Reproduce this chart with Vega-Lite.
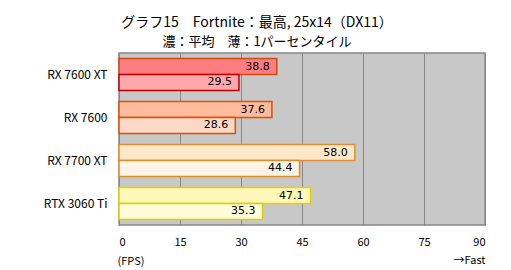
{
  "$schema": "https://vega.github.io/schema/vega-lite/v6.json",
  "width": 366,
  "height": 172,
  "autosize": {"type": "none"},
  "padding": {"left": 119, "top": 53, "right": 26, "bottom": 45},
  "background": "#ffffff",
  "title": {
    "text": "グラフ15　Fortnite：最高, 25x14（DX11）",
    "subtitle": "濃：平均　薄：1パーセンタイル",
    "anchor": "middle",
    "frame": "group",
    "dx": -45,
    "font": "Noto Sans CJK JP",
    "fontSize": 14,
    "fontWeight": "normal",
    "color": "#000000",
    "subtitleFont": "Noto Sans CJK JP",
    "subtitleFontSize": 13,
    "subtitleColor": "#000000",
    "subtitlePadding": 6,
    "offset": 4
  },
  "data": {
    "values": [
      {"gpu": "RX 7600 XT", "metric": "avg", "key": "RX 7600 XT avg", "value": 38.8},
      {"gpu": "RX 7600 XT", "metric": "p1", "key": "RX 7600 XT p1", "value": 29.5},
      {"gpu": "RX 7600", "metric": "avg", "key": "RX 7600 avg", "value": 37.6},
      {"gpu": "RX 7600", "metric": "p1", "key": "RX 7600 p1", "value": 28.6},
      {"gpu": "RX 7700 XT", "metric": "avg", "key": "RX 7700 XT avg", "value": 58.0},
      {"gpu": "RX 7700 XT", "metric": "p1", "key": "RX 7700 XT p1", "value": 44.4},
      {"gpu": "RTX 3060 Ti", "metric": "avg", "key": "RTX 3060 Ti avg", "value": 47.1},
      {"gpu": "RTX 3060 Ti", "metric": "p1", "key": "RTX 3060 Ti p1", "value": 35.3}
    ]
  },
  "encoding": {
    "y": {
      "field": "gpu",
      "type": "nominal",
      "sort": ["RX 7600 XT", "RX 7600", "RX 7700 XT", "RTX 3060 Ti"],
      "scale": {"paddingInner": 0.256, "paddingOuter": 0.128},
      "axis": {
        "title": null,
        "domain": false,
        "ticks": false,
        "labelPadding": 12,
        "labelFont": "Noto Sans CJK JP",
        "labelFontSize": 12,
        "labelColor": "#000000"
      }
    },
    "yOffset": {
      "field": "metric",
      "type": "nominal",
      "sort": ["avg", "p1"],
      "scale": {"paddingInner": 0, "paddingOuter": 0}
    },
    "x": {
      "field": "value",
      "type": "quantitative",
      "scale": {"domain": [0, 90], "nice": false},
      "axis": {
        "values": [0, 15, 30, 45, 60, 75, 90],
        "labelExpr": "datum.value == 90 ? ['90', '→Fast'] : datum.label",
        "labelLineHeight": 18,
        "grid": true,
        "gridColor": "#888888",
        "gridWidth": 1,
        "gridOpacity": 1,
        "domain": false,
        "ticks": false,
        "labelPadding": 11,
        "labelFont": "Noto Sans CJK JP",
        "labelFontSize": 11,
        "labelColor": "#000000",
        "title": "(FPS)",
        "titleFont": "Noto Sans CJK JP",
        "titleFontSize": 11,
        "titleFontWeight": "normal",
        "titleColor": "#000000",
        "titleAnchor": "start",
        "titleAlign": "left",
        "titleBaseline": "middle",
        "titleX": -2,
        "titleY": 36
      }
    }
  },
  "layer": [
    {
      "mark": {"type": "bar", "strokeWidth": 1.5},
      "encoding": {
        "fill": {
          "field": "key",
          "type": "nominal",
          "legend": null,
          "scale": {
            "domain": ["RX 7600 XT avg", "RX 7600 XT p1", "RX 7600 avg", "RX 7600 p1", "RX 7700 XT avg", "RX 7700 XT p1", "RTX 3060 Ti avg", "RTX 3060 Ti p1"],
            "range": ["#ff7c80", "#ffa8ac", "#ffbc9c", "#ffd8c8", "#ffe8c8", "#fff4e6", "#fff8b8", "#fffcd8"]
          }
        },
        "stroke": {
          "field": "key",
          "type": "nominal",
          "legend": null,
          "scale": {
            "domain": ["RX 7600 XT avg", "RX 7600 XT p1", "RX 7600 avg", "RX 7600 p1", "RX 7700 XT avg", "RX 7700 XT p1", "RTX 3060 Ti avg", "RTX 3060 Ti p1"],
            "range": ["#d04a10", "#c00000", "#e05000", "#e05000", "#e09030", "#d8902c", "#e8d000", "#e0cc00"]
          }
        }
      }
    },
    {
      "mark": {"type": "text", "align": "right", "baseline": "middle", "dx": -7, "font": "DejaVu Sans", "fontSize": 11, "color": "#000000"},
      "encoding": {
        "text": {"field": "value", "type": "quantitative", "format": ".1f"}
      }
    }
  ],
  "config": {
    "view": {"stroke": "#888888", "strokeWidth": 1.5, "fill": "#c8c8c8"}
  }
}
